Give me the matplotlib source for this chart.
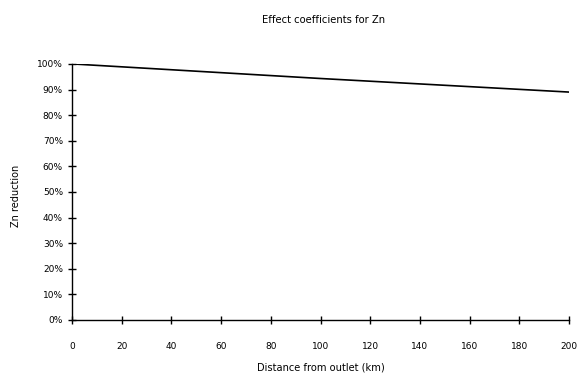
import matplotlib.pyplot as plt
from matplotlib.ticker import PercentFormatter

distance = [0, 100, 200]
reduction = [100, 94.3, 89.0]
x_ticks = list(range(0, 201, 20))
y_ticks = list(range(0, 101, 10))

plt.rcParams['font.family'] = ['DejaVu Sans']
fig = plt.figure(figsize=(5.78, 3.85), dpi=100)
ax = fig.add_axes([0.1246, 0.169, 0.86, 0.665])

ax.plot(distance, reduction, color='black', lw=1.2)

ax.set_xlim(0, 200)
ax.set_ylim(0, 100)
ax.set_xticks(x_ticks)
ax.set_yticks(y_ticks)
ax.yaxis.set_major_formatter(PercentFormatter(decimals=0))
for s in ['top', 'right']:
    ax.spines[s].set_visible(False)
for s in ['left', 'bottom']:
    ax.spines[s].set_linewidth(1.0)
ax.tick_params(direction='inout', length=6, width=1, labelsize=6.5)
ax.tick_params(axis='x', pad=13)

fig.text(0.56, 0.948, 'Effect coefficients for Zn', ha='center', va='center', fontsize=7.2)
fig.text(0.555, 0.045, 'Distance from outlet (km)', ha='center', va='center', fontsize=7.1)
fig.text(0.028, 0.49, 'Zn reduction', ha='center', va='center', rotation=90, fontsize=7)

fig.savefig('out.png', dpi=100)
